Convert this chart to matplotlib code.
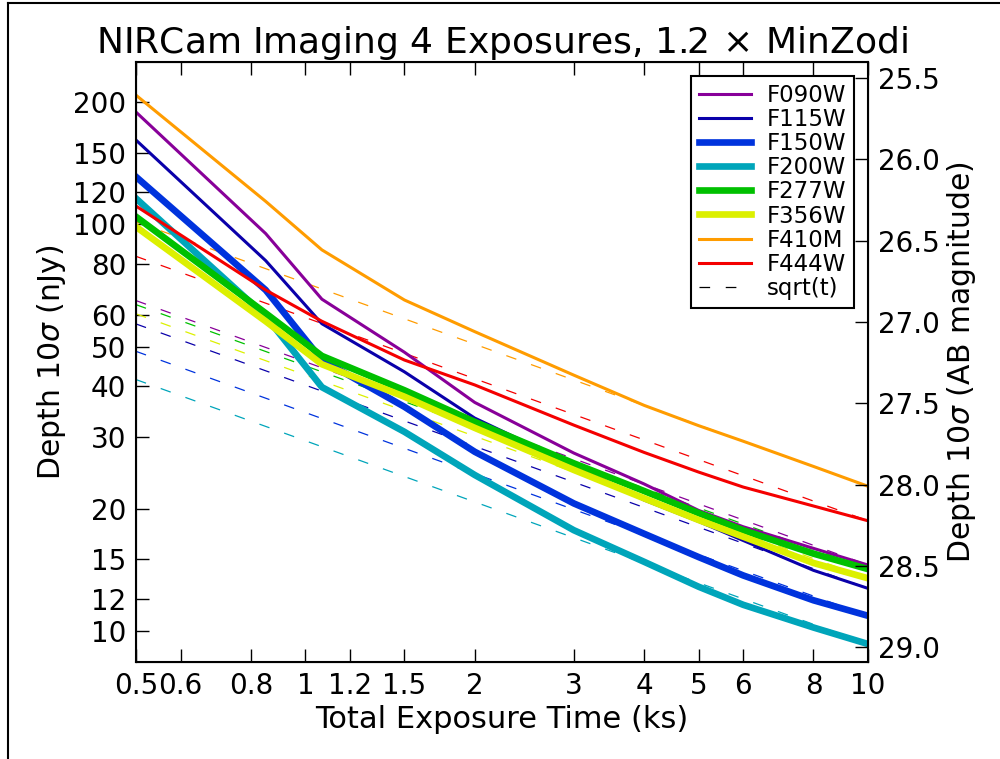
import numpy as np
import matplotlib
matplotlib.use('Agg')
import matplotlib.pyplot as plt
from matplotlib.lines import Line2D

# total exposure time (ks)
t = [0.5, 0.85, 1.07, 1.5, 2, 3, 4, 5, 6, 8, 10]

# 10 sigma depth (nJy) per filter
F090W = [189, 95, 65.5, 48.5, 36.5, 27.4, 23.0, 19.8, 18.05, 15.97, 14.53]
F115W = [161.3, 81.5, 57, 43.4, 33.4, 25.6, 21.0, 18.6, 16.7, 14.1, 12.73]
F150W = [131, 69, 46.4, 35.6, 27.6, 20.6, 17.35, 15.2, 13.7, 11.9, 10.9]
F200W = [115.9, 59.5, 39.8, 30.9, 24.2, 17.7, 14.8, 12.85, 11.6, 10.2, 9.29]
F277W = [104.5, 60.5, 47.5, 39.1, 32.7, 25.85, 22.1, 19.5, 17.7, 15.5, 14.2]
F356W = [98.7, 57.8, 45.3, 37.7, 31.6, 24.9, 21.2, 18.75, 17.06, 14.7, 13.48]
F410M = [208, 114, 86.6, 65.2, 54.5, 42.6, 35.9, 32.0, 29.3, 25.4, 22.7]
F444W = [111, 69, 57.8, 46.4, 40.3, 32.1, 27.5, 24.6, 22.6, 20.3, 18.67]

filters = ['F090W', 'F115W', 'F150W', 'F200W', 'F277W', 'F356W', 'F410M', 'F444W']
depths = [F090W, F115W, F150W, F200W, F277W, F356W, F410M, F444W]
colors = ['#880099', '#0a00aa', '#0033dd', '#00a5ba', '#00c000', '#dcf000',
          '#ff9c00', '#f40000']
wide = [False, False, True, True, True, True, False, False]

xticks = [0.5, 0.6, 0.8, 1, 1.2, 1.5, 2, 3, 4, 5, 6, 8, 10]
yticks = [10, 12, 15, 20, 30, 40, 50, 60, 80, 100, 120, 150, 200]
mags = [25.5, 26.0, 26.5, 27.0, 27.5, 28.0, 28.5, 29.0]

plt.rcParams['font.family'] = 'DejaVu Sans'
plt.rcParams['mathtext.fontset'] = 'dejavusans'

fig = plt.figure(figsize=(10, 7.59), dpi=100)
ax = fig.add_axes([0.136, 0.1278, 0.732, 0.7905])

tt = np.array(t)
# sqrt(t) reference lines through the 10 ks depth
for d, c in zip(depths, colors):
    ax.plot(tt, d[-1] * np.sqrt(tt[-1] / tt), color=c, lw=0.9, dashes=(8.5, 12.5))
for name, d, c, w in zip(filters, depths, colors, wide):
    ax.plot(t, d, color=c, lw=4.8 if w else 2.2, label=name)
ax.plot([], [], color='k', lw=0.9, dashes=(8.5, 12.5), label='sqrt(t)')

ax.set_xscale('log')
ax.set_yscale('log')
ax.set_xlim(0.5, 10)
ax.set_ylim(8.39, 251)
ax.set_xticks(xticks)
ax.set_xticklabels([('%g' % v) for v in xticks])
ax.set_yticks(yticks)
ax.set_yticklabels([('%g' % v) for v in yticks])
ax.minorticks_off()
ax.tick_params(direction='in', length=9.5, width=1, labelsize=20, top=True,
               pad=7)
for s in ax.spines.values():
    s.set_linewidth(1.5)

ax2 = ax.twinx()
ax2.set_yscale('log')
ax2.set_ylim(ax.get_ylim())
ax2.set_yticks([10 ** ((31.4 - m) / 2.5) for m in mags])
ax2.set_yticklabels(['%.1f' % m for m in mags])
ax2.minorticks_off()
ax2.tick_params(direction='in', length=9.5, width=1, labelsize=20, pad=7)

ax.set_xlabel('Total Exposure Time (ks)', fontsize=22, labelpad=4)
ax.set_ylabel('Depth 10$\\sigma$ (nJy)', fontsize=21.5)
ax2.set_ylabel('Depth 10$\\sigma$ (AB magnitude)', fontsize=21.5)
ax.set_title('NIRCam Imaging 4 Exposures, 1.2$\\,\\times\\,$MinZodi',
             fontsize=26, pad=6)

leg = ax.legend(loc='upper right', fontsize=16.5, labelspacing=0.05,
                handlelength=2.25, handletextpad=0.7, borderpad=0.35,
                fancybox=False, framealpha=1, borderaxespad=0.6)
leg.get_frame().set_edgecolor('k')
leg.get_frame().set_linewidth(1.5)

fig.add_artist(Line2D([0.008, 0.008], [0, 0.996], transform=fig.transFigure,
                      color='k', lw=1.5))
fig.add_artist(Line2D([0.008, 1], [0.996, 0.996], transform=fig.transFigure,
                      color='k', lw=1.5))

fig.savefig('out.png', dpi=100)
